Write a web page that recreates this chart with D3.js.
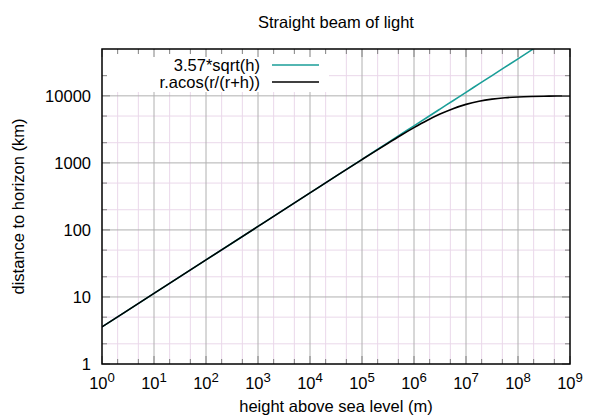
<!DOCTYPE html>
<html>
<head>
<meta charset="utf-8">
<script src="https://cdn.jsdelivr.net/npm/d3@7"></script>
<style>
  body { margin: 0; background: #fff; }
  svg text { font-family: "Liberation Sans", Arial, sans-serif; fill: #000; }
</style>
</head>
<body>
<div id="chart"></div>
<script>
// heights above sea level (m)
const heights = [1, 10, 100, 1e3, 1e4, 3.162e4, 1e5, 1.778e5, 3.162e5, 5.623e5,
  1e6, 1.778e6, 3.162e6, 5.623e6, 1e7, 1.778e7, 3.162e7, 5.623e7,
  1e8, 1.778e8, 3.162e8, 5.623e8, 1e9];
// 3.57*sqrt(h), km
const approxDist = [3.57, 11.29, 35.7, 112.9, 357, 634.8, 1129, 1505, 2007, 2677,
  3570, 4760, 6348, 8466, 11289, 15055, 20075, 26771,
  35700, 47607, 63484, 84658, 112893];
// r.acos(r/(r+h)), km
const exactDist = [3.57, 11.29, 35.7, 112.9, 356.7, 633.5, 1121.5, 1488, 1967, 2584,
  3357, 4290, 5345, 6440, 7461, 8307, 8934, 9358,
  9626, 9787, 9882, 9936, 9967];

const seriesNames = ['3.57*sqrt(h)', 'r.acos(r/(r+h))'];
const seriesColors = ['#1a9e98', '#000000'];
const xTickExp = [0, 1, 2, 3, 4, 5, 6, 7, 8, 9];
const yTicks = [1, 10, 100, 1000, 10000];
const minorMult = [2, 5];

const W = 600, H = 419;
const m = { left: 102, right: 30, top: 49, bottom: 55 };
const FS = 16.5;

const svg = d3.select('#chart').append('svg').attr('width', W).attr('height', H);

const x = d3.scaleLog().domain([1, 1e9]).range([m.left, W - m.right]);
const y = d3.scaleLog().domain([1, 50000]).range([H - m.bottom, m.top]);

const x0 = m.left, x1 = W - m.right, y0 = H - m.bottom, y1 = m.top;

// minor grid
const xMinor = [], yMinor = [];
xTickExp.slice(0, -1).forEach(e => minorMult.forEach(k => xMinor.push(k * Math.pow(10, e))));
yTicks.forEach(t => minorMult.forEach(k => { if (k * t < 50000) yMinor.push(k * t); }));

const grid = svg.append('g');
grid.selectAll('.mx').data(xMinor).join('line')
  .attr('x1', d => x(d)).attr('x2', d => x(d)).attr('y1', y0).attr('y2', y1)
  .attr('stroke', '#ead8ea').attr('stroke-width', 1);
grid.selectAll('.my').data(yMinor).join('line')
  .attr('y1', d => y(d)).attr('y2', d => y(d)).attr('x1', x0).attr('x2', x1)
  .attr('stroke', '#ead8ea').attr('stroke-width', 1);
// major grid
grid.selectAll('.gx').data(xTickExp.slice(1, -1)).join('line')
  .attr('x1', d => x(Math.pow(10, d))).attr('x2', d => x(Math.pow(10, d))).attr('y1', y0).attr('y2', y1)
  .attr('stroke', '#b0b0b0').attr('stroke-width', 1);
grid.selectAll('.gy').data(yTicks.slice(1)).join('line')
  .attr('y1', d => y(d)).attr('y2', d => y(d)).attr('x1', x0).attr('x2', x1)
  .attr('stroke', '#b0b0b0').attr('stroke-width', 1);

// curves
svg.append('clipPath').attr('id', 'clip').append('rect')
  .attr('x', x0).attr('y', y1).attr('width', x1 - x0).attr('height', y0 - y1);

const line = vals => d3.line()
  .x((d, i) => x(heights[i])).y(d => y(d))
  .curve(d3.curveMonotoneX)(vals);

const plot = svg.append('g').attr('clip-path', 'url(#clip)');
[approxDist, exactDist].forEach((vals, i) => {
  plot.append('path').attr('d', line(vals))
    .attr('fill', 'none').attr('stroke', seriesColors[i]).attr('stroke-width', 1.6);
});

// legend (opaque box)
svg.append('rect').attr('x', x0 + 1).attr('y', y1 + 1).attr('width', 226).attr('height', 42)
  .attr('fill', '#fff');
seriesNames.forEach((name, i) => {
  const ly = 65 + i * 17;
  svg.append('text').attr('x', 260).attr('y', ly + 6).attr('text-anchor', 'end')
    .attr('font-size', FS + 'px').text(name);
  svg.append('line').attr('x1', 272).attr('x2', 319).attr('y1', ly).attr('y2', ly)
    .attr('stroke', seriesColors[i]).attr('stroke-width', 1.6);
});

// tick marks (inward)
const ticks = svg.append('g').attr('stroke', '#808080').attr('stroke-width', 1);
xTickExp.forEach(e => {
  const px = x(Math.pow(10, e));
  ticks.append('line').attr('x1', px).attr('x2', px).attr('y1', y0).attr('y2', y0 - 8);
  ticks.append('line').attr('x1', px).attr('x2', px).attr('y1', y1).attr('y2', y1 + 8);
});
xMinor.forEach(v => {
  ticks.append('line').attr('x1', x(v)).attr('x2', x(v)).attr('y1', y0).attr('y2', y0 - 5);
  ticks.append('line').attr('x1', x(v)).attr('x2', x(v)).attr('y1', y1).attr('y2', y1 + 5);
});
yTicks.forEach(t => {
  ticks.append('line').attr('y1', y(t)).attr('y2', y(t)).attr('x1', x0).attr('x2', x0 + 8);
  ticks.append('line').attr('y1', y(t)).attr('y2', y(t)).attr('x1', x1).attr('x2', x1 - 8);
});
yMinor.forEach(v => {
  ticks.append('line').attr('y1', y(v)).attr('y2', y(v)).attr('x1', x0).attr('x2', x0 + 5);
  ticks.append('line').attr('y1', y(v)).attr('y2', y(v)).attr('x1', x1).attr('x2', x1 - 5);
});

// frame
svg.append('rect').attr('x', x0).attr('y', y1).attr('width', x1 - x0).attr('height', y0 - y1)
  .attr('fill', 'none').attr('stroke', '#000').attr('stroke-width', 1.5);

// tick labels
yTicks.forEach(t => {
  svg.append('text').attr('x', x0 - 11).attr('y', y(t) + 6).attr('text-anchor', 'end')
    .attr('font-size', FS + 'px').text(t);
});
xTickExp.forEach(e => {
  const t = svg.append('text').attr('x', x(Math.pow(10, e))).attr('y', y0 + 25)
    .attr('text-anchor', 'middle').attr('font-size', FS + 'px');
  t.append('tspan').text('10');
  t.append('tspan').attr('dy', -7).attr('font-size', (FS * 0.8) + 'px').text(e);
});

// titles
svg.append('text').attr('x', (x0 + x1) / 2).attr('y', 28).attr('text-anchor', 'middle')
  .attr('font-size', FS + 'px').text('Straight beam of light');
svg.append('text').attr('x', (x0 + x1) / 2).attr('y', 412).attr('text-anchor', 'middle')
  .attr('font-size', FS + 'px').text('height above sea level (m)');
svg.append('text').attr('transform', `translate(24,${(y0 + y1) / 2}) rotate(-90)`)
  .attr('text-anchor', 'middle').attr('font-size', FS + 'px').text('distance to horizon (km)');
</script>
</body>
</html>
